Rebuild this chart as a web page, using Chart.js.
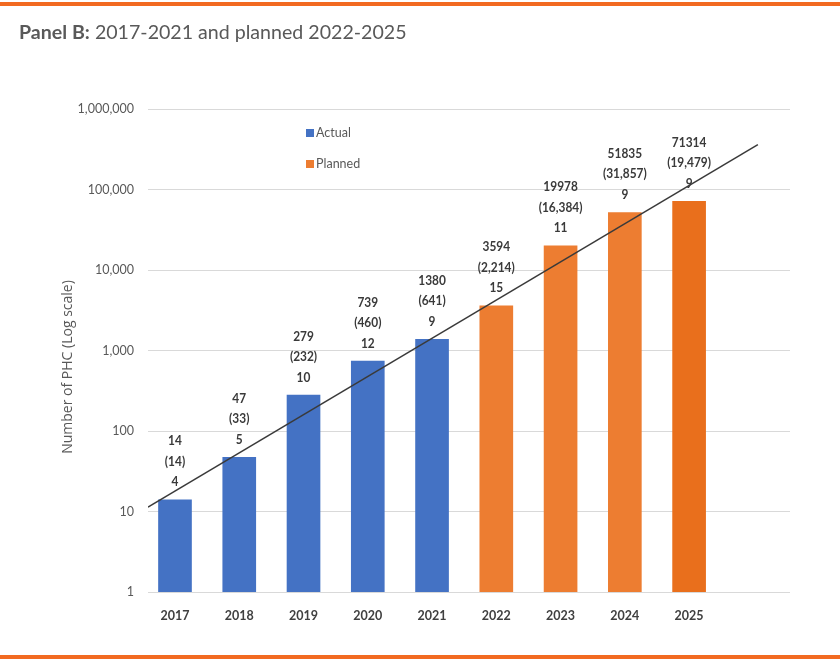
<!DOCTYPE html>
<html>
<head>
<meta charset="utf-8">
<script src="https://cdn.jsdelivr.net/npm/chart.js@4.4.1/dist/chart.umd.min.js"></script>
<style>
    body { margin: 0; background: #fff; }
    #wrap { position: relative; width: 840px; height: 659px; overflow: hidden; }
    .linea { position: absolute; left: 0; width: 840px; height: 4px; background: #F26A21; }
    #titulo { position: absolute; left: 19px; top: 20px; font-family: Lato, sans-serif; font-size: 19.6px; color: #595959; white-space: nowrap; }
    #titulo b { font-weight: bold; }
    canvas { position: absolute; left: 0; top: 0; }
</style>
</head>
<body>
<div id="wrap">
    <canvas id="graficaPHC" width="840" height="659"></canvas>
    <div class="linea" style="top: 2px"></div>
    <div class="linea" style="top: 655px"></div>
    <div id="titulo"><b>Panel B:</b> 2017-2021 and planned 2022-2025</div>
</div>
<script>
// datos
const years = ["2017", "2018", "2019", "2020", "2021", "2022", "2023", "2024", "2025"];
const totalPHC = [14, 47, 279, 739, 1380, 3594, 19978, 51835, 71314];
const inParens = [14, 33, 232, 460, 641, 2214, 16384, 31857, 19479];
const bottomNum = [4, 5, 10, 12, 9, 15, 11, 9, 9];
const yTicks = [1, 10, 100, 1000, 10000, 100000, 1000000];
const firstPlanned = 5;
// tendencia exponencial (posicion en anios, valor)
const trendX = [-0.42, 9.07];
const trendY = [11.3, 360000];

const fuente = "Lato, sans-serif";
const azul = "#4472C4";
const naranja = "#ED7D31";

function puntos(desde, hasta) {
    var out = [];
    for (var i = desde; i < hasta; i++) {
        out.push({ x: i, y: totalPHC[i] });
    }
    return out;
}

const etiquetas = {
    id: "etiquetas",
    afterDatasetDraw(chart, args) {
        const ds = chart.data.datasets[args.index];
        if (ds.type === "line") return;
        const ctx = chart.ctx;
        ctx.save();
        ctx.font = "bold 14px " + fuente;
        ctx.fillStyle = "#3A3A3A";
        ctx.textAlign = "center";
        ctx.textBaseline = "middle";
        args.meta.data.forEach(function (bar, j) {
            const k = ds.data[j].x;
            const lineas = [String(totalPHC[k]), "(" + inParens[k].toLocaleString("en-US") + ")", String(bottomNum[k])];
            for (var n = 0; n < 3; n++) {
                ctx.save();
                ctx.translate(bar.x, bar.y - 18 - (2 - n) * 20.5);
                ctx.scale(0.85, 1);
                ctx.fillText(lineas[n], 0, 0);
                ctx.restore();
            }
        });
        ctx.restore();
    },
    afterDraw(chart) {
        const ctx = chart.ctx;
        ctx.save();
        // leyenda
        ctx.font = "12.5px " + fuente;
        ctx.textBaseline = "middle";
        ctx.textAlign = "left";
        [0, 1].forEach(function (i) {
            const ds = chart.data.datasets[i];
            const y = 133 + i * 31;
            ctx.fillStyle = Array.isArray(ds.backgroundColor) ? ds.backgroundColor[0] : ds.backgroundColor;
            ctx.fillRect(306, y - 4, 8, 8);
            ctx.fillStyle = "#595959";
            ctx.fillText(ds.label, 316, y);
        });
        // titulo del eje y
        ctx.translate(68, 367);
        ctx.rotate(-Math.PI / 2);
        ctx.textAlign = "center";
        ctx.font = "14px 'Open Sans', sans-serif";
        ctx.fillStyle = "#595959";
        ctx.fillText("Number of PHC (Log scale)", 0, 0);
        ctx.restore();
    }
};

const grafica = new Chart(document.getElementById("graficaPHC"), {
    data: {
        datasets: [
            {
                type: "bar",
                label: "Actual",
                data: puntos(0, firstPlanned),
                backgroundColor: azul,
                barThickness: 33,
                grouped: false,
                order: 1
            },
            {
                type: "bar",
                label: "Planned",
                data: puntos(firstPlanned, years.length),
                backgroundColor: [naranja, naranja, naranja, "#E96F1C"],
                barThickness: 33,
                grouped: false,
                order: 1
            },
            {
                type: "line",
                label: "Trend",
                data: trendX.map(function (x, i) { return { x: x, y: trendY[i] }; }),
                borderColor: "#3A3A3A",
                borderWidth: 1.5,
                pointRadius: 0,
                order: 0
            }
        ]
    },
    options: {
        responsive: false,
        animation: false,
        layout: { padding: { left: 0, right: 50, top: 109, bottom: 0 } },
        plugins: {
            legend: { display: false },
            tooltip: { enabled: false }
        },
        scales: {
            x: {
                type: "linear",
                min: -0.42,
                max: 9.57,
                offset: false,
                grid: { display: false },
                border: { display: false },
                afterBuildTicks: function (ax) {
                    ax.ticks = years.map(function (y, i) { return { value: i }; });
                },
                afterFit: function (ax) { ax.height = 67; },
                ticks: {
                    callback: function (v) { return years[v]; },
                    font: { family: fuente, weight: "bold", size: 12.5 },
                    color: "#404040",
                    padding: 8,
                    maxRotation: 0,
                    autoSkip: false
                }
            },
            y: {
                type: "logarithmic",
                min: 1,
                max: 1000000,
                afterBuildTicks: function (ax) {
                    ax.ticks = yTicks.map(function (v) { return { value: v }; });
                },
                afterFit: function (ax) { ax.width = 148; },
                grid: { color: "#D9D9D9", drawTicks: false },
                border: { display: false },
                ticks: {
                    callback: function (v) { return Number(v).toLocaleString("en-US"); },
                    font: { family: fuente, size: 12.5 },
                    color: "#595959",
                    padding: 14
                }
            }
        }
    },
    plugins: [etiquetas]
});
</script>
</body>
</html>
